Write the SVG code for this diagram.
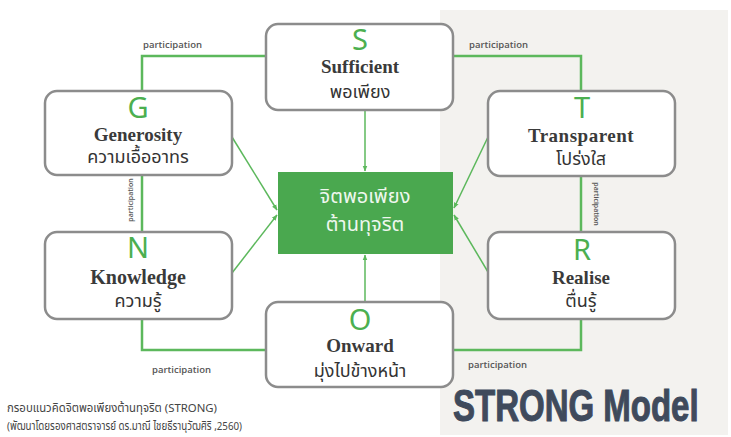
<svg xmlns="http://www.w3.org/2000/svg" width="731" height="437" viewBox="0 0 731 437">
<defs>
<style>
.box{fill:#fff;stroke:#8c8c8c;stroke-width:2.5}
.part{fill:none;stroke:#5cb85c;stroke-width:2.5}
.arr{fill:none;stroke:#5cb85c;stroke-width:1.5}
.letter{font-family:"Noto Sans","Open Sans",sans-serif;font-size:29px;fill:#4caf50;text-anchor:middle}
.en{font-family:"Liberation Serif","Times New Roman",serif;font-weight:bold;font-size:19px;fill:#3a3a3a;text-anchor:middle}
.th{font-family:"Noto Sans Thai","Noto Sans","DejaVu Sans",sans-serif;font-size:18px;fill:#333;text-anchor:middle}
.plabel{font-family:"Open Sans","Noto Sans",sans-serif;font-size:9.5px;font-weight:600;fill:#555}
.vlabel{font-family:"Open Sans","Noto Sans",sans-serif;font-size:7px;font-weight:600;fill:#555;text-anchor:middle}
.cap{font-family:"Noto Sans Thai","Noto Sans","DejaVu Sans",sans-serif;font-size:11.5px;fill:#444}
</style>
<marker id="ah" viewBox="0 0 10 10" refX="9" refY="5" markerWidth="6" markerHeight="6" orient="auto" markerUnits="userSpaceOnUse">
<path d="M0,1 L10,5 L0,9 Z" fill="#5cb85c"/>
</marker>
</defs>
<rect x="0" y="0" width="731" height="437" fill="#ffffff"/>
<rect x="440" y="10" width="288" height="425" fill="#f3f2ef"/>

<g id="connectors">
<polyline class="part" points="142,91 142,56 267,56"/>
<polyline class="part" points="453,56 581,56 581,91"/>
<line class="part" x1="142" y1="175" x2="142" y2="232"/>
<line class="part" x1="581" y1="176" x2="581" y2="232"/>
<polyline class="part" points="142,319 142,350 266,350"/>
<polyline class="part" points="453,350 581,350 581,319"/>
<line class="arr" x1="365" y1="110" x2="365" y2="171" marker-end="url(#ah)"/>
<line class="arr" x1="365" y1="302" x2="365" y2="255" marker-end="url(#ah)"/>
<line class="arr" x1="232" y1="137" x2="277" y2="210" marker-end="url(#ah)"/>
<line class="arr" x1="232" y1="273" x2="277" y2="215" marker-end="url(#ah)"/>
<line class="arr" x1="488" y1="137" x2="454" y2="208" marker-end="url(#ah)"/>
<line class="arr" x1="488" y1="272" x2="454" y2="215" marker-end="url(#ah)"/>
<text class="plabel" x="143" y="48">participation</text>
<text class="plabel" x="469" y="48">participation</text>
<text class="plabel" x="152" y="373">participation</text>
<text class="plabel" x="468" y="368">participation</text>
<text class="vlabel" transform="translate(133,200) rotate(-90)">participation</text>
<text class="vlabel" transform="translate(594,204) rotate(90)">participation</text>
</g>

<g id="center">
<rect x="278" y="172" width="175" height="82" fill="#4aa84f"/>
<text class="th" x="365" y="203" style="fill:#eef7ee;font-size:20px">จิตพอเพียง</text>
<text class="th" x="365" y="231" style="fill:#eef7ee;font-size:20px">ต้านทุจริต</text>
</g>

<g id="node-S">
<rect class="box" x="266" y="24" width="187" height="86" rx="12"/>
<text class="letter" x="360" y="50">S</text>
<text class="en" x="360" y="73">Sufficient</text>
<text class="th" x="360" y="98">พอเพียง</text>
</g>
<g id="node-T">
<rect class="box" x="488" y="91" width="187" height="85" rx="12"/>
<text class="letter" x="582" y="118">T</text>
<text class="en" x="581" y="142" style="letter-spacing:0.5px">Transparent</text>
<text class="th" x="581" y="165">โปร่งใส</text>
</g>
<g id="node-R">
<rect class="box" x="488" y="232" width="187" height="87" rx="12"/>
<text class="letter" x="582" y="260">R</text>
<text class="en" x="581" y="284">Realise</text>
<text class="th" x="581" y="307">ตื่นรู้</text>
</g>
<g id="node-O">
<rect class="box" x="266" y="302" width="187" height="85" rx="12"/>
<text class="letter" x="360" y="330">O</text>
<text class="en" x="360" y="352">Onward</text>
<text class="th" x="360" y="377">มุ่งไปข้างหน้า</text>
</g>
<g id="node-N">
<rect class="box" x="45" y="232" width="187" height="87" rx="12"/>
<text class="letter" x="138" y="258">N</text>
<text class="en" x="138" y="284" style="font-size:20px">Knowledge</text>
<text class="th" x="138" y="307">ความรู้</text>
</g>
<g id="node-G">
<rect class="box" x="45" y="91" width="187" height="84" rx="12"/>
<text class="letter" x="138" y="118">G</text>
<text class="en" x="138" y="141">Generosity</text>
<text class="th" x="138" y="163">ความเอื้ออาทร</text>
</g>

<g id="caption">
<text class="cap" x="7" y="412" textLength="210" lengthAdjust="spacingAndGlyphs">กรอบแนวคิดจิตพอเพียงต้านทุจริต (STRONG)</text>
<text class="cap" x="7" y="430" textLength="235" lengthAdjust="spacingAndGlyphs">(พัฒนาโดยรองศาสตราจารย์ ดร.มาณี ไชยธีรานุวัฒศิริ ,2560)</text>
</g>
<g id="title">
<text transform="translate(453,421) scale(1,1.36)" x="0" y="0" style="font-family:'Liberation Sans',Arial,sans-serif;font-weight:bold;font-size:33px;fill:#3f4a5c;stroke:#3f4a5c;stroke-width:0.8">STRONG Model</text>
</g>
</svg>
